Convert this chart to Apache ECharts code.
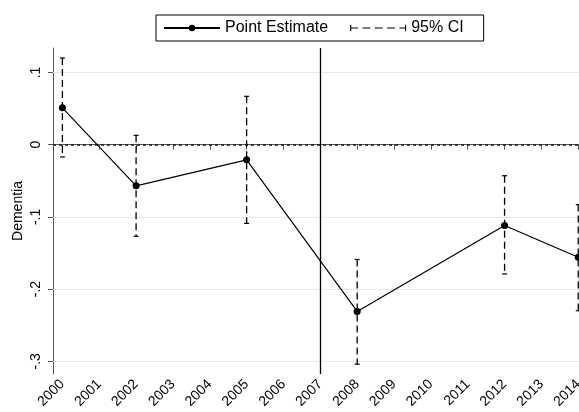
<!DOCTYPE html>
<html>
<head>
<meta charset="utf-8">
<script src="https://cdn.jsdelivr.net/npm/echarts@6/dist/echarts.min.js"></script>
<style>html,body{margin:0;padding:0;background:#fff}#chart{width:579px;height:412px}</style>
</head>
<body>
<div id="chart"></div>
<script>
// ---- data ----
var years    = [2000, 2002, 2005, 2008, 2012, 2014];
var estimate = [0.051, -0.057, -0.021, -0.231, -0.112, -0.156];
var ciLower  = [-0.017, -0.127, -0.109, -0.304, -0.179, -0.230];
var ciUpper  = [0.120, 0.013, 0.067, -0.159, -0.043, -0.083];
var xTicks   = [2000, 2001, 2002, 2003, 2004, 2005, 2006, 2007, 2008, 2009, 2010, 2011, 2012, 2013, 2014];
var yTicks   = [-0.3, -0.2, -0.1, 0, 0.1];
var zeroLine = 0;
var eventYear = 2007;

var FONT = 'Liberation Sans, Arial, Helvetica, sans-serif';
var chart = echarts.init(document.getElementById('chart'));

var pointData = years.map(function (y, i) { return [y, estimate[i]]; });
var ciData = years.map(function (y, i) { return [y, ciLower[i], ciUpper[i]]; });

var markData = yTicks.filter(function (v) { return v !== zeroLine; }).map(function (v) {
  return { yAxis: v, lineStyle: { color: '#e6e6e6', width: 1, type: 'solid' } };
});
markData.push({ yAxis: zeroLine, lineStyle: { color: '#222', width: 1.6, type: [3, 3] } });
markData.push({ xAxis: eventYear, lineStyle: { color: '#000', width: 1.3, type: 'solid' } });

function yFmt(v) {
  if (Math.abs(v) < 1e-9) return '0';
  return v.toFixed(1).replace(/^(-?)0\./, '$1.');
}
function xFmt(v) { return String(Math.round(v)); }

var ciIcon = 'path://M0,1h1v6h-1Z M0,3.5h7v1h-7Z M11,3.5h7v1h-7Z M22,3.5h7v1h-7Z M33,3.5h7v1h-7Z M44,3.5h6v1h-6Z M49,1h1v6h-1Z';

chart.setOption({
  animation: false,
  backgroundColor: '#fff',
  textStyle: { fontFamily: FONT },
  legend: {
    left: 156, top: 15,
    borderColor: '#000', borderWidth: 1,
    padding: [5, 20, 5, 7],
    itemWidth: 56, itemHeight: 8, itemGap: 22,
    textStyle: { fontSize: 16, color: '#000', fontFamily: FONT },
    data: [
      { name: 'Point Estimate' },
      { name: '95% CI', icon: ciIcon, itemStyle: { color: '#000', borderWidth: 0 } }
    ]
  },
  grid: { left: 53, right: 0, top: 48, bottom: 38, containLabel: false, outerBoundsMode: 'none' },
  xAxis: {
    type: 'value',
    min: 1999.745, max: 2014.02,
    axisLine: { show: true, lineStyle: { color: '#555', width: 1 } },
    axisTick: { show: true, length: 5, customValues: xTicks, lineStyle: { color: '#555' } },
    axisLabel: { customValues: xTicks, rotate: 45, fontSize: 14, color: '#000', margin: 8, formatter: xFmt, fontFamily: FONT },
    splitLine: { show: false }
  },
  yAxis: {
    type: 'value',
    min: -0.3176, max: 0.1339,
    name: 'Dementia', nameLocation: 'middle', nameGap: 28, nameMoveOverlap: false,
    nameTextStyle: { fontSize: 14, color: '#000', fontFamily: FONT },
    axisLine: { show: true, lineStyle: { color: '#555', width: 1 } },
    axisTick: { show: true, length: 5, customValues: yTicks, lineStyle: { color: '#555' } },
    axisLabel: { customValues: yTicks, rotate: 90, fontSize: 14, color: '#000', margin: 10, formatter: yFmt, fontFamily: FONT },
    splitLine: { show: false }
  },
  series: [
    {
      name: '95% CI',
      type: 'custom',
      itemStyle: { color: '#000' },
      data: ciData,
      encode: { x: 0, y: [1, 2] },
      z: 3,
      renderItem: function (params, api) {
        var x = api.value(0);
        var lo = api.coord([x, api.value(1)]);
        var hi = api.coord([x, api.value(2)]);
        var hw = 2.5;
        var st = { stroke: '#000', lineWidth: 1.2 };
        return {
          type: 'group',
          children: [
            { type: 'line', shape: { x1: hi[0], y1: hi[1], x2: lo[0], y2: lo[1] }, style: { stroke: '#000', lineWidth: 1.3, lineDash: [7, 4] } },
            { type: 'line', shape: { x1: hi[0] - hw, y1: hi[1], x2: hi[0] + hw, y2: hi[1] }, style: st },
            { type: 'line', shape: { x1: lo[0] - hw, y1: lo[1], x2: lo[0] + hw, y2: lo[1] }, style: st }
          ]
        };
      }
    },
    {
      name: 'Point Estimate',
      type: 'line',
      data: pointData,
      symbol: 'circle', symbolSize: 7,
      itemStyle: { color: '#000' },
      lineStyle: { color: '#000', width: 1.2 },
      z: 4,
      markLine: {
        silent: true, symbol: ['none', 'none'], label: { show: false },
        animation: false, z: 1,
        data: markData
      }
    }
  ]
});
</script>
</body>
</html>
